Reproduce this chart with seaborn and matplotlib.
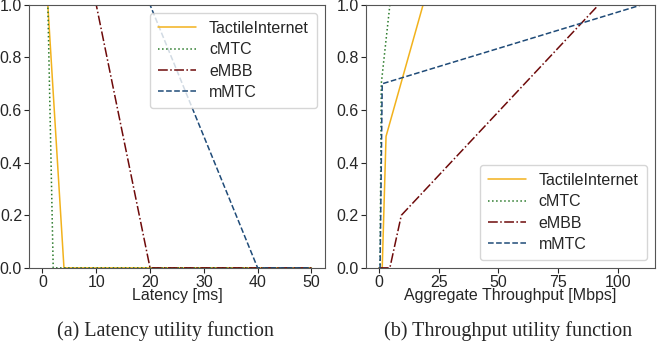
import matplotlib
matplotlib.use("Agg")
import matplotlib.pyplot as plt
import seaborn as sns

# latency utility (x in ms)
lat_tactile_x = [0, 1, 4, 50]
lat_tactile_y = [1, 1, 0, 0]
lat_cmtc_x = [0, 1, 2, 50]
lat_cmtc_y = [1, 1, 0, 0]
lat_embb_x = [0, 10, 20, 50]
lat_embb_y = [1, 1, 0, 0]
lat_mmtc_x = [0, 20, 40, 50]
lat_mmtc_y = [1, 1, 0, 0]

# throughput utility (x in Mbps)
thr_tactile_x = [0, 1.4, 3, 18.5, 110]
thr_tactile_y = [0, 0, 0.5, 1, 1]
thr_cmtc_x = [0, 0.5, 1, 4.6, 110]
thr_cmtc_y = [0, 0, 0.7, 1, 1]
thr_embb_x = [0, 4.6, 9.4, 92, 110]
thr_embb_y = [0, 0, 0.2, 1, 1]
thr_mmtc_x = [0, 0.5, 1.4, 110]
thr_mmtc_y = [0, 0, 0.7, 1]

names = ["TactileInternet", "cMTC", "eMBB", "mMTC"]
colors = ["#f2b21c", "#2a7a2a", "#6e0a0a", "#1f4b78"]
styles = ["-", ":", "-.", "--"]

sns.set_style("ticks")
plt.rcParams['font.family'] = ['Liberation Sans', 'DejaVu Sans']
plt.rcParams['font.size'] = 11.5

fig = plt.figure(figsize=(6.59, 3.47), dpi=100)
ax1 = fig.add_axes([0.044, 0.228, 0.449, 0.758])
ax2 = fig.add_axes([0.555, 0.228, 0.4385, 0.758])

lat = [(lat_tactile_x, lat_tactile_y), (lat_cmtc_x, lat_cmtc_y),
       (lat_embb_x, lat_embb_y), (lat_mmtc_x, lat_mmtc_y)]
thr = [(thr_tactile_x, thr_tactile_y), (thr_cmtc_x, thr_cmtc_y),
       (thr_embb_x, thr_embb_y), (thr_mmtc_x, thr_mmtc_y)]

for ax, series in [(ax1, lat), (ax2, thr)]:
    for (x, y), name, c, ls in zip(series, names, colors, styles):
        sns.lineplot(x=x, y=y, ax=ax, label=name, color=c, linestyle=ls,
                     linewidth=1.1, estimator=None, sort=False)
    ax.set_ylim(0, 1)
    ax.set_yticks([0, 0.2, 0.4, 0.6, 0.8, 1.0])
    for s in ax.spines.values():
        s.set_color("#555555")
    ax.tick_params(length=3.5, pad=1.5)

ax1.set_xlim(-2.5, 52.5)
ax1.set_xticks([0, 10, 20, 30, 40, 50])
ax1.set_xlabel("Latency [ms]", labelpad=-1)
ax1.legend(loc="upper right", handlelength=2.4, borderpad=0.5, labelspacing=0.4,
           handletextpad=0.8, fancybox=True)

ax2.set_xlim(-5.5, 115.5)
ax2.set_xticks([0, 25, 50, 75, 100])
ax2.set_xlabel("Aggregate Throughput [Mbps]", labelpad=-1)
ax2.legend(loc="lower right", handlelength=2.4, borderpad=0.5, labelspacing=0.4,
           handletextpad=0.8, fancybox=True)

fig.text(0.251, 0.046, "(a) Latency utility function", ha="center", va="center",
         family="Liberation Serif", fontsize=14.5)
fig.text(0.771, 0.046, "(b) Throughput utility function", ha="center", va="center",
         family="Liberation Serif", fontsize=14.5)

fig.savefig("out.png", dpi=100)
